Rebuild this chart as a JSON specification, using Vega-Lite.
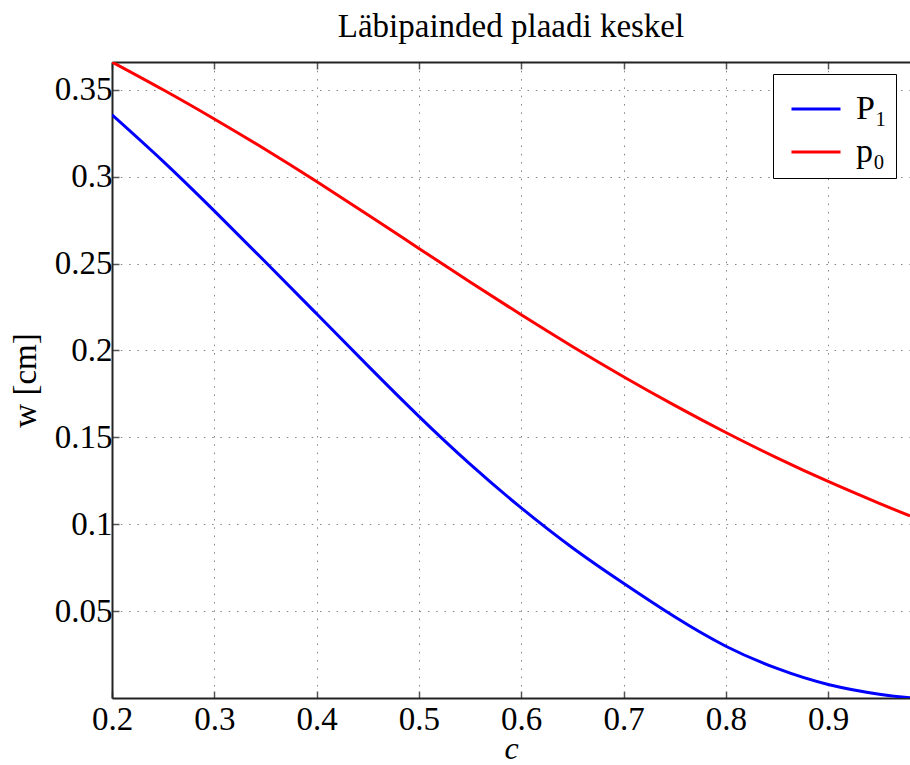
{
  "$schema": "https://vega.github.io/schema/vega-lite/v6.json",
  "width": 798,
  "height": 636,
  "autosize": {"type": "none"},
  "padding": {"left": 112, "top": 62, "right": 0, "bottom": 67},
  "background": "white",
  "title": {
    "text": "Läbipainded plaadi keskel",
    "font": "Liberation Serif",
    "fontSize": 33,
    "fontWeight": "normal",
    "color": "#000",
    "anchor": "middle",
    "offset": 17
  },
  "data": {
    "values": [
      {"c": 0.20, "w": 0.3356, "s": "P₁"},
      {"c": 0.25, "w": 0.3088, "s": "P₁"},
      {"c": 0.30, "w": 0.2803, "s": "P₁"},
      {"c": 0.35, "w": 0.2509, "s": "P₁"},
      {"c": 0.40, "w": 0.2211, "s": "P₁"},
      {"c": 0.45, "w": 0.1913, "s": "P₁"},
      {"c": 0.50, "w": 0.1621, "s": "P₁"},
      {"c": 0.55, "w": 0.1346, "s": "P₁"},
      {"c": 0.60, "w": 0.1094, "s": "P₁"},
      {"c": 0.65, "w": 0.0865, "s": "P₁"},
      {"c": 0.70, "w": 0.0660, "s": "P₁"},
      {"c": 0.75, "w": 0.0467, "s": "P₁"},
      {"c": 0.80, "w": 0.0298, "s": "P₁"},
      {"c": 0.85, "w": 0.0170, "s": "P₁"},
      {"c": 0.90, "w": 0.0078, "s": "P₁"},
      {"c": 0.95, "w": 0.0022, "s": "P₁"},
      {"c": 0.98, "w": 0.0002, "s": "P₁"},
      {"c": 0.20, "w": 0.3660, "s": "p₀"},
      {"c": 0.25, "w": 0.3500, "s": "p₀"},
      {"c": 0.30, "w": 0.3332, "s": "p₀"},
      {"c": 0.35, "w": 0.3156, "s": "p₀"},
      {"c": 0.40, "w": 0.2972, "s": "p₀"},
      {"c": 0.45, "w": 0.2781, "s": "p₀"},
      {"c": 0.50, "w": 0.2587, "s": "p₀"},
      {"c": 0.55, "w": 0.2394, "s": "p₀"},
      {"c": 0.60, "w": 0.2205, "s": "p₀"},
      {"c": 0.65, "w": 0.2023, "s": "p₀"},
      {"c": 0.70, "w": 0.1849, "s": "p₀"},
      {"c": 0.75, "w": 0.1684, "s": "p₀"},
      {"c": 0.80, "w": 0.1528, "s": "p₀"},
      {"c": 0.85, "w": 0.1382, "s": "p₀"},
      {"c": 0.90, "w": 0.1246, "s": "p₀"},
      {"c": 0.95, "w": 0.1120, "s": "p₀"},
      {"c": 0.98, "w": 0.1048, "s": "p₀"}
    ]
  },
  "layer": [
    {
      "mark": {"type": "line", "strokeWidth": 3, "interpolate": "natural", "clip": true},
      "encoding": {
        "x": {
          "field": "c",
          "type": "quantitative",
          "scale": {"domain": [0.2, 0.98], "nice": false, "zero": false},
          "axis": {
            "orient": "bottom",
            "values": [0.2, 0.3, 0.4, 0.5, 0.6, 0.7, 0.8, 0.9],
            "format": "~g",
            "labelPadding": 12,
            "title": "c",
            "titleFontStyle": "italic",
            "titleFontSize": 32,
            "titlePadding": -3
          }
        },
        "y": {
          "field": "w",
          "type": "quantitative",
          "scale": {"domain": [0, 0.366], "nice": false, "zero": false},
          "axis": {
            "orient": "left",
            "values": [0.05, 0.1, 0.15, 0.2, 0.25, 0.3, 0.35],
            "format": "~g",
            "labelPadding": 7,
            "title": "w [cm]",
            "titlePadding": 12
          }
        },
        "color": {
          "field": "s",
          "type": "nominal",
          "scale": {"domain": ["P₁", "p₀"], "range": ["#0000ff", "#ff0000"]},
          "legend": {
            "title": null,
            "orient": "none",
            "legendX": 661,
            "legendY": 12,
            "symbolType": "stroke",
            "symbolSize": 2401,
            "symbolStrokeWidth": 3,
            "symbolOffset": 8,
            "labelFont": "Liberation Serif",
            "labelFontSize": 34,
            "labelColor": "#000",
            "labelOffset": 14,
            "labelLimit": 200,
            "rowPadding": 0,
            "padding": 9,
            "strokeColor": "#000",
            "fillColor": "#fff",
            "cornerRadius": 0
          }
        }
      }
    },
    {
      "mark": {"type": "line", "opacity": 0},
      "encoding": {
        "x": {
          "field": "c",
          "type": "quantitative",
          "scale": {"domain": [0.2, 0.98], "nice": false, "zero": false},
          "axis": {
            "orient": "top",
            "values": [0.2, 0.3, 0.4, 0.5, 0.6, 0.7, 0.8, 0.9],
            "labels": false,
            "grid": false,
            "title": null
          }
        },
        "y": {"field": "w", "type": "quantitative", "axis": null}
      }
    }
  ],
  "resolve": {"axis": {"x": "independent", "y": "independent"}},
  "config": {
    "view": {"stroke": null},
    "font": "Liberation Serif",
    "style": {
      "guide-label": {"font": "Liberation Serif"},
      "guide-title": {"font": "Liberation Serif"}
    },
    "axis": {
      "labelFont": "Liberation Serif",
      "labelFontSize": 33,
      "labelColor": "#000",
      "titleFont": "Liberation Serif",
      "titleFontSize": 33,
      "titleFontWeight": "normal",
      "titleColor": "#000",
      "domainColor": "#222",
      "domainWidth": 2,
      "tickColor": "#555",
      "tickWidth": 1.5,
      "tickSize": -7,
      "grid": true,
      "gridColor": "#777",
      "gridWidth": 1,
      "gridDash": [1.5, 6.8],
      "gridOpacity": 0.9,
      "labelFlush": false,
      "labelOverlap": false
    }
  }
}
